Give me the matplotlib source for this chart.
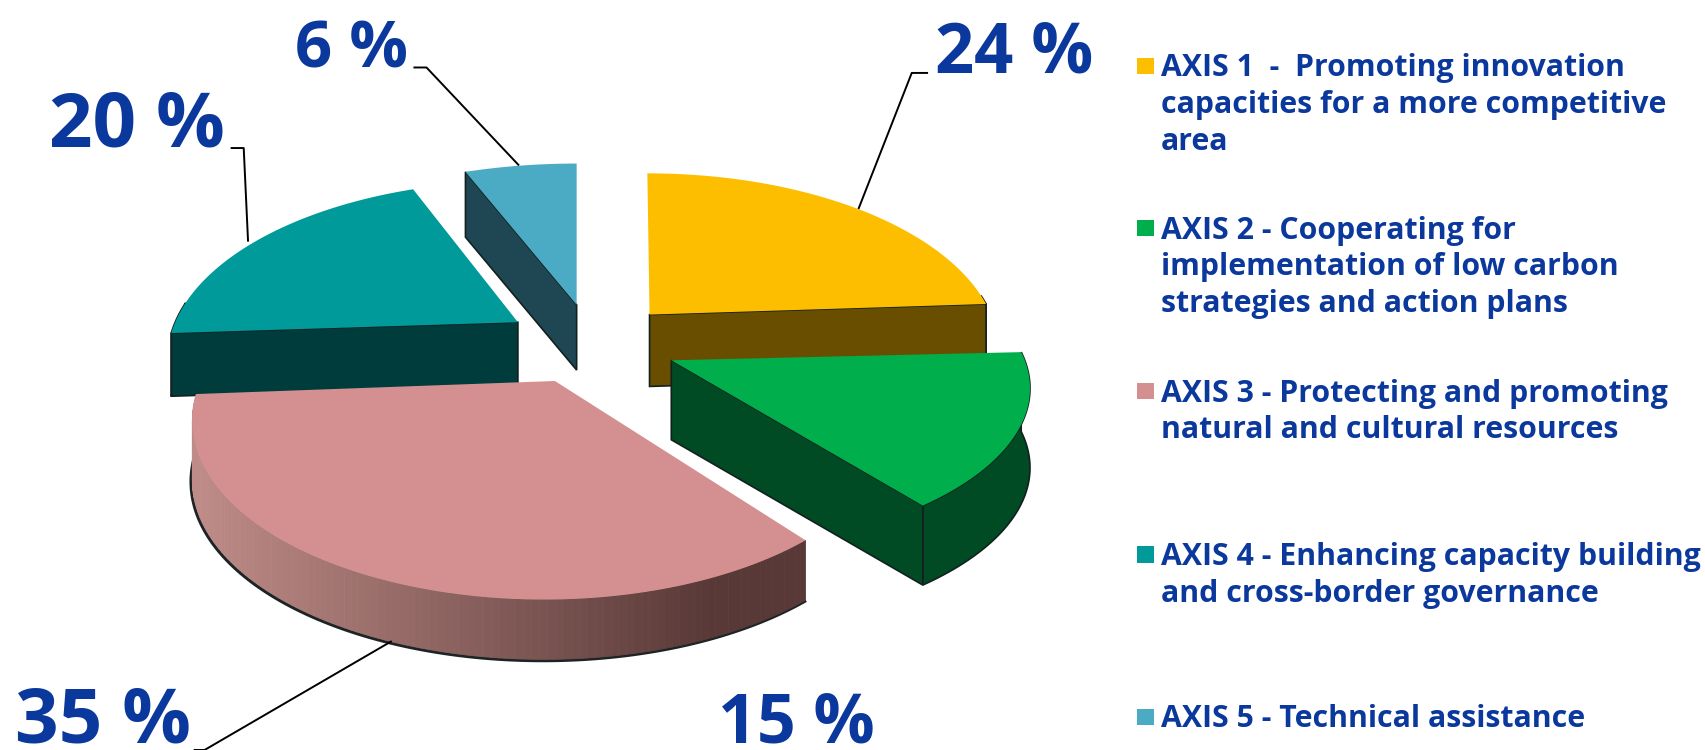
import numpy as np
import matplotlib
matplotlib.use("Agg")
import matplotlib.pyplot as plt
from matplotlib.patches import Polygon

categories = ["AXIS 1", "AXIS 2", "AXIS 3", "AXIS 4", "AXIS 5"]
values = [24, 15, 35, 20, 6]
value_labels = ["24 %", "15 %", "35 %", "20 %", "6 %"]
legend_labels = [
    "AXIS 1  -  Promoting innovation\ncapacities for a more competitive\narea",
    "AXIS 2 - Cooperating for\nimplementation of low carbon\nstrategies and action plans",
    "AXIS 3 - Protecting and promoting\nnatural and cultural resources",
    "AXIS 4 - Enhancing capacity building\nand cross-border governance",
    "AXIS 5 - Technical assistance",
]
top_colors = ["#FDBE00", "#00AE4B", "#D49090", "#009A9A", "#4BABC4"]
cut_colors = ["#6A4E00", "#004A24", "#5A3A38", "#003C3C", "#1F4753"]
rim_colors = ["#6A4E00", "#004A24", None, "#003C3C", "#1F4753"]
apexes = [(597, 289), (617, 331), (510, 350), (476, 296), (530, 280)]
arc_shift = [(-2, 0), (0, -6), (-10, 2), (1, 0), (0, 0)]
rx_scale = [1.0, 1.02, 1.0, 1.0, 1.05]
ry_scale = [1.0, 0.92, 1.0, 1.0, 1.0]
view_turn = [0, -3, 0, 0, 0]
depths = [66, 73, 55, 58, 60]
label_pos = [(932, 67), (732, 682), (95, 682), (126, 135), (323, 62)]
label_size = [49.5, 49, 55, 55, 47]
leaders = [
    [(789, 192), (838, 67), (853, 67)],
    None,
    [(360, 589), (188, 689), (178, 689)],
    [(228, 222), (224, 136), (212, 136)],
    [(477, 152), (392, 62), (380, 62)],
]
legend_y = [60, 209, 359, 509, 658]

W, H = 1568, 689
RX, RY, P = 316, 157, 0.21
BLUE = "#0B389C"

fig = plt.figure(figsize=(17.06, 7.5), dpi=100)
ax = fig.add_axes([0, 0, 1, 1])
ax.set_xlim(0, W)
ax.set_ylim(H, 0)
ax.axis("off")

starts = 90 - np.cumsum([0] + values[:-1]) * 3.6
ends = 90 - np.cumsum(values) * 3.6
z_order = [2, 3, 2.5, 2, 2]


def arc(i):
    deg = np.linspace(starts[i], ends[i], 120) + view_turn[i]
    t = np.radians(deg)
    X, Y = np.cos(t), np.sin(t)
    w = 1 + P * Y
    return np.column_stack([
        apexes[i][0] + arc_shift[i][0] + RX * rx_scale[i] * X / w,
        apexes[i][1] + arc_shift[i][1] - RY * ry_scale[i] * Y / w,
    ]), np.sin(t)


def draw_wedge(i):
    pts, sn = arc(i)
    apex = np.array(apexes[i], dtype=float)
    d = depths[i]
    z = z_order[i]
    front = pts[sn < 0.12]
    if i == 2:
        lo = pts + [0, d]
        ax.plot(lo[:, 0] - 1, lo[:, 1] + 1, color="#1c2426", lw=2.6, zorder=z - 0.1)
        for k in range(len(pts) - 1):
            f = np.clip((pts[k, 0] - 185) / 470, 0, 1)
            c = np.array([0xBE, 0x8B, 0x87]) * (1 - f) + np.array([0x58, 0x39, 0x37]) * f
            c = c / 255
            q = np.array([pts[k], pts[k + 1], pts[k + 1] + [0, d], pts[k] + [0, d]])
            ax.add_patch(Polygon(q, fc=c, ec=c, lw=0.6, zorder=z))
    elif len(front) > 1:
        ax.add_patch(Polygon(np.vstack([front, front[::-1] + [0, d]]),
                             fc=rim_colors[i], ec="#12201f", lw=1.2, zorder=z))
    for p in (pts[0], pts[-1]):
        if (i == 0 and p[0] > apex[0] + 100) or (i == 1 and p[1] > apex[1] + 50) \
                or (i == 3 and p[0] < apex[0] - 200) or (i == 4 and p[0] < apex[0] - 50):
            q = np.array([apex, p, p + [0, d], apex + [0, d]], dtype=float)
            ax.add_patch(Polygon(q, fc=cut_colors[i], ec="#12201f", lw=1.2, zorder=z + 0.1))
    ax.add_patch(Polygon(np.vstack([[apex], pts]), fc=top_colors[i], ec="none", zorder=z + 0.2))


for i in range(len(values)):
    draw_wedge(i)

for seg in leaders:
    if seg:
        xs, ys = zip(*seg)
        ax.plot(xs, ys, color="black", lw=1.4, zorder=6, solid_capstyle="butt")

for (x, y), s, fs in zip(label_pos, value_labels, label_size):
    ax.text(x, y, s, color=BLUE, fontsize=fs, fontweight="bold", family="Open Sans",
            ha="center", va="baseline", zorder=7)

for y, s, c in zip(legend_y, legend_labels, top_colors):
    ax.add_patch(plt.Rectangle((1045, y - 7), 16, 15, fc=c, ec="none"))
    ax.text(1067, y - 11, s, color=BLUE, fontsize=21.8, fontweight="bold", family="Open Sans",
            ha="left", va="top", linespacing=1.29)

fig.savefig("out.png", dpi=100)
